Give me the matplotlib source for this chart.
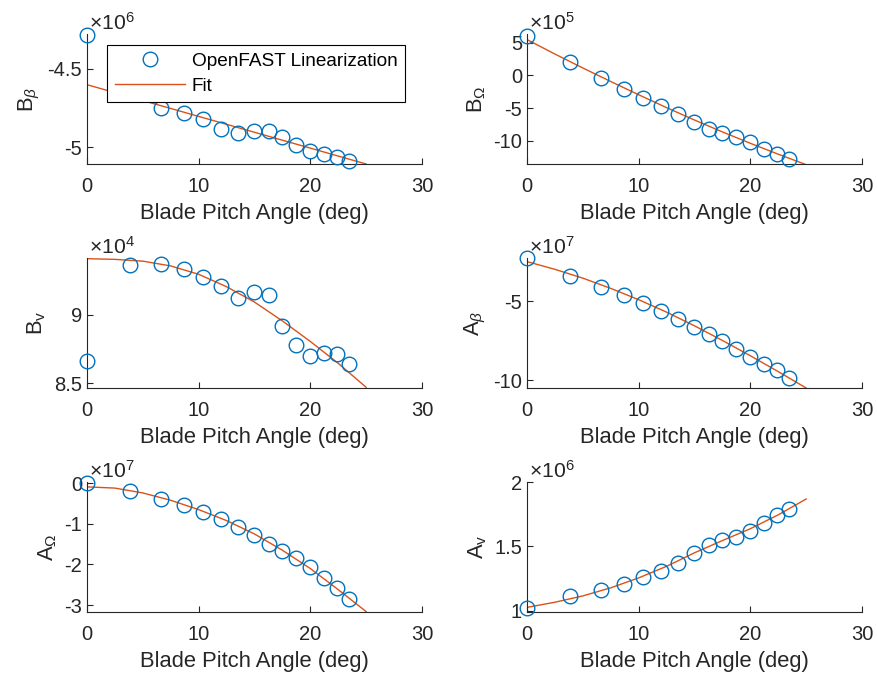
import matplotlib.pyplot as plt

plt.rcParams['font.family'] = ['Liberation Sans', 'DejaVu Sans']
plt.rcParams['mathtext.fontset'] = 'custom'
plt.rcParams['mathtext.rm'] = 'Liberation Sans'
plt.rcParams['mathtext.it'] = 'Liberation Sans:italic'
plt.rcParams['mathtext.bf'] = 'Liberation Sans:bold'
plt.rcParams['axes.unicode_minus'] = False

# blade pitch of the linearization points (deg)
pitch = [0, 3.85, 6.60, 8.66, 10.43, 12.01, 13.50, 14.97, 16.28, 17.48,
         18.73, 19.99, 21.18, 22.38, 23.48]
# pitch where the fitted curves were read
fit_pitch = [0, 2.5, 5, 7.5, 10, 12.5, 15, 17.5, 20, 22.5, 25]
line_pitch = [0, 25]

# B_beta  (x 1e6)
b_beta = [-4.287, -4.62, -4.749, -4.783, -4.821, -4.881, -4.906, -4.896,
          -4.896, -4.936, -4.983, -5.021, -5.043, -5.060, -5.085]
b_beta_fit = [-4.602, -5.106]

# B_Omega  (x 1e5)
b_omega = [6.12, 2.14, -0.41, -2.14, -3.52, -4.74, -5.92, -7.10, -8.15,
           -8.85, -9.40, -10.15, -11.22, -12.07, -12.84]
b_omega_fit = [5.50, 3.28, 1.15, -0.92, -2.95, -4.92, -6.82, -8.64, -10.38,
               -12.05, -13.65]

# B_v  (x 1e4)
b_v = [8.661, 9.361, 9.373, 9.334, 9.273, 9.207, 9.124, 9.163, 9.141,
       8.917, 8.780, 8.700, 8.722, 8.717, 8.639]
b_v_fit = [9.410, 9.405, 9.392, 9.357, 9.296, 9.205, 9.093, 8.955, 8.805,
           8.645, 8.470]

# A_beta  (x 1e7)
a_beta = [-2.25, -3.39, -4.06, -4.57, -5.11, -5.60, -6.12, -6.63, -7.08,
          -7.53, -8.05, -8.50, -8.99, -9.38, -9.85]
a_beta_fit = [-2.47, -2.96, -3.52, -4.17, -4.89, -5.68, -6.55, -7.48, -8.45,
              -9.46, -10.50]

# A_Omega  (x 1e7)
a_omega = [0.01, -0.20, -0.38, -0.54, -0.70, -0.88, -1.07, -1.28, -1.50,
           -1.68, -1.84, -2.06, -2.34, -2.58, -2.84]
a_omega_fit = [-0.09, -0.12, -0.24, -0.42, -0.65, -0.92, -1.25, -1.65, -2.10,
               -2.62, -3.16]

# A_v  (x 1e6)
a_v = [1.018, 1.118, 1.160, 1.208, 1.261, 1.308, 1.368, 1.445, 1.513,
       1.550, 1.576, 1.621, 1.684, 1.742, 1.789]
a_v_fit = [1.026, 1.066, 1.115, 1.178, 1.255, 1.345, 1.450, 1.545, 1.637,
           1.745, 1.868]

BLUE = '#0072BD'
ORANGE = '#D95319'
AXC = '#262626'

W, H = 877, 677
fig = plt.figure(figsize=(W / 100, H / 100), dpi=100)


def panel(left, top, y, fx, fy, ylabel, power, ylim, yticks):
    ax = fig.add_axes([left / W, 1 - (top + 130) / H, 335 / W, 130 / H])
    pts, = ax.plot(pitch, y, 'o', ms=10.5, mfc='none', mec=BLUE, mew=1.0,
                   clip_on=False, label='OpenFAST Linearization', zorder=3)
    fit, = ax.plot(fx, fy, '-', color=ORANGE, lw=1.0, label='Fit', zorder=2)
    ax.set_xlim(0, 30)
    ax.set_ylim(*ylim)
    ax.set_xticks([0, 10, 20, 30])
    ax.set_xticklabels(['0', '10', '20', '30'])
    ax.set_yticks(yticks)
    ax.set_yticklabels(['%g' % t for t in yticks])
    for s in ['top', 'right']:
        ax.spines[s].set_visible(False)
    for s in ['left', 'bottom']:
        ax.spines[s].set_color(AXC)
        ax.spines[s].set_linewidth(0.8)
    ax.tick_params(direction='in', length=4, width=0.8, colors=AXC,
                   labelsize=14.5)
    ax.tick_params(axis='x', pad=9.5)
    ax.tick_params(axis='y', pad=3.6)
    ax.set_xlabel('Blade Pitch Angle (deg)', fontsize=15.8, color=AXC, labelpad=5)
    ax.set_ylabel(ylabel, fontsize=15.8, color=AXC, labelpad=4)
    ax.text(0.005, 1.0, r'$\times10^{%d}$' % power, transform=ax.transAxes,
            fontsize=15.2, color=AXC, ha='left', va='bottom')
    return ax, pts, fit


ax1, pts, fit = panel(87, 34, b_beta, line_pitch, b_beta_fit, r'B$_{\beta}$', 6,
                      (-5.106, -4.28), [-5, -4.5])
panel(527, 34, b_omega, fit_pitch, b_omega_fit, r'B$_{\Omega}$', 5,
      (-13.55, 6.35), [-10, -5, 0, 5])
panel(87, 258, b_v, fit_pitch, b_v_fit, r'B$_{\rm v}$', 4,
      (8.465, 9.415), [8.5, 9])
panel(527, 258, a_beta, fit_pitch, a_beta_fit, r'A$_{\beta}$', 7,
      (-10.5, -2.24), [-10, -5])
panel(87, 482, a_omega, fit_pitch, a_omega_fit, r'A$_{\Omega}$', 7,
      (-3.17, 0.03), [-3, -2, -1, 0])
panel(527, 482, a_v, fit_pitch, a_v_fit, r'A$_{\rm v}$', 6,
      (0.99, 2.0), [1, 1.5, 2])

leg = ax1.legend(handles=[pts, fit], loc='upper left',
                 bbox_to_anchor=(107 / W, 1 - 45 / H),
                 bbox_transform=fig.transFigure, fontsize=13.7, numpoints=1,
                 handlelength=3.7, handletextpad=0.35, borderpad=0.4,
                 borderaxespad=0, labelspacing=0.4, fancybox=False,
                 framealpha=1, edgecolor='black')
leg.get_frame().set_linewidth(0.8)

fig.savefig('out.png', dpi=100)
